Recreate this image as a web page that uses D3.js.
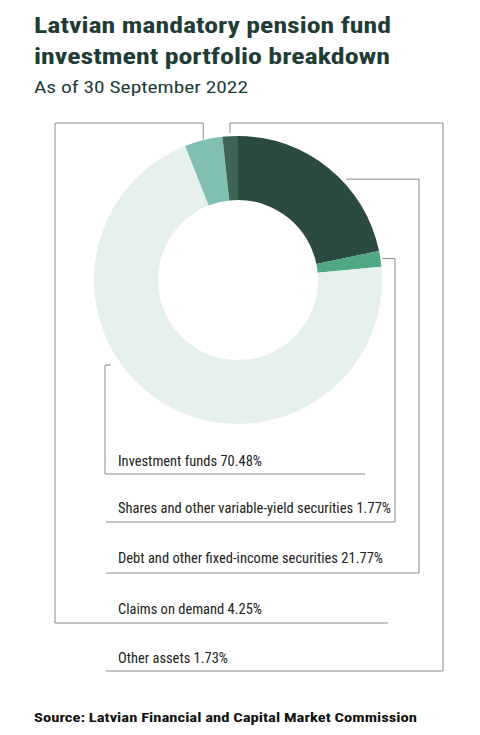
<!DOCTYPE html>
<html><head><meta charset="utf-8">
<script src="https://cdn.jsdelivr.net/npm/d3@7"></script>
<style>body{margin:0;background:#fff}</style></head>
<body><svg id="c" width="480" height="735"></svg>
<script>
const categories = ["Debt and other fixed-income securities","Shares and other variable-yield securities","Investment funds","Claims on demand","Other assets"];
const values = [21.77, 1.77, 70.48, 4.25, 1.73];
const colors = ["#2b4a42","#4fa883","#e6f0ec","#80bfb2","#3d6455"];
const labelOrder = [2,1,0,3,4];

const svg = d3.select("#c");
const F = "'Roboto Condensed','Liberation Sans Narrow','Roboto',sans-serif";
const title = "#1f3d36";
function txt(x,y,s,size,w,len,fill){
  const t = svg.append("text").attr("x",x).attr("y",y).text(s)
   .attr("font-family",F).attr("font-size",size).attr("font-weight",w).attr("fill",fill||title);
  if(len) t.attr("textLength",len).attr("lengthAdjust","spacingAndGlyphs");
}
txt(34,33,"Latvian mandatory pension fund",22,"bold",357);
txt(34,64,"investment portfolio breakdown",22,"bold",356);
txt(34,93,"As of 30 September 2022",17,"normal",214);
txt(34,722,"Source: Latvian Financial and Capital Market Commission",13,"bold",383,"#111");

const cx=238, cy=280, R=144, r0=80;
const pie = d3.pie().sort(null).value(d=>d)(values);
const arc = d3.arc().innerRadius(r0).outerRadius(R);
const g = svg.append("g").attr("transform",`translate(${cx},${cy})`);
g.selectAll("path").data(pie).join("path").attr("d",arc).attr("fill",(d,i)=>colors[i]);

// leader routing
const lc="#8a8a8a";
function pl(pts){svg.append("path").attr("d",d3.line()(pts)).attr("fill","none").attr("stroke",lc).attr("stroke-width",1);}
function pt(i,ang,rr){const a=ang; return [cx+rr*Math.sin(a), cy-rr*Math.cos(a)];}
const p0=pie[0], p1=pie[1], p3=pie[3], p4=pie[4];
const dA = pt(0,p0.startAngle+(p0.endAngle-p0.startAngle)*0.6,R+4);
pl([dA,[419,dA[1]],[419,573],[106,573]]);
const sA = pt(1,(p1.startAngle+p1.endAngle)/2,R+2);
pl([sA,[395,sA[1]],[395,522],[106,522]]);
pl([[111,365],[105,365],[105,474],[365,474]]);
const cA = pt(3,(p3.startAngle+p3.endAngle)/2,R+1);
pl([[cA[0],cA[1]],[cA[0],123],[55,123],[55,623],[388,623]]);
const oA = pt(4,(p4.startAngle+p4.endAngle)/2,R+3);
pl([[oA[0],oA[1]],[oA[0],123],[443,123],[443,671],[106,671]]);

const baselines=[466,513,563,614,663];
const lens=[144,273,265,144,110];
labelOrder.forEach((ci,k)=>{
  txt(118,baselines[k],categories[ci]+" "+values[ci].toFixed(2)+"%",15,"normal",lens[k],"#222");
});
</script></body></html>
